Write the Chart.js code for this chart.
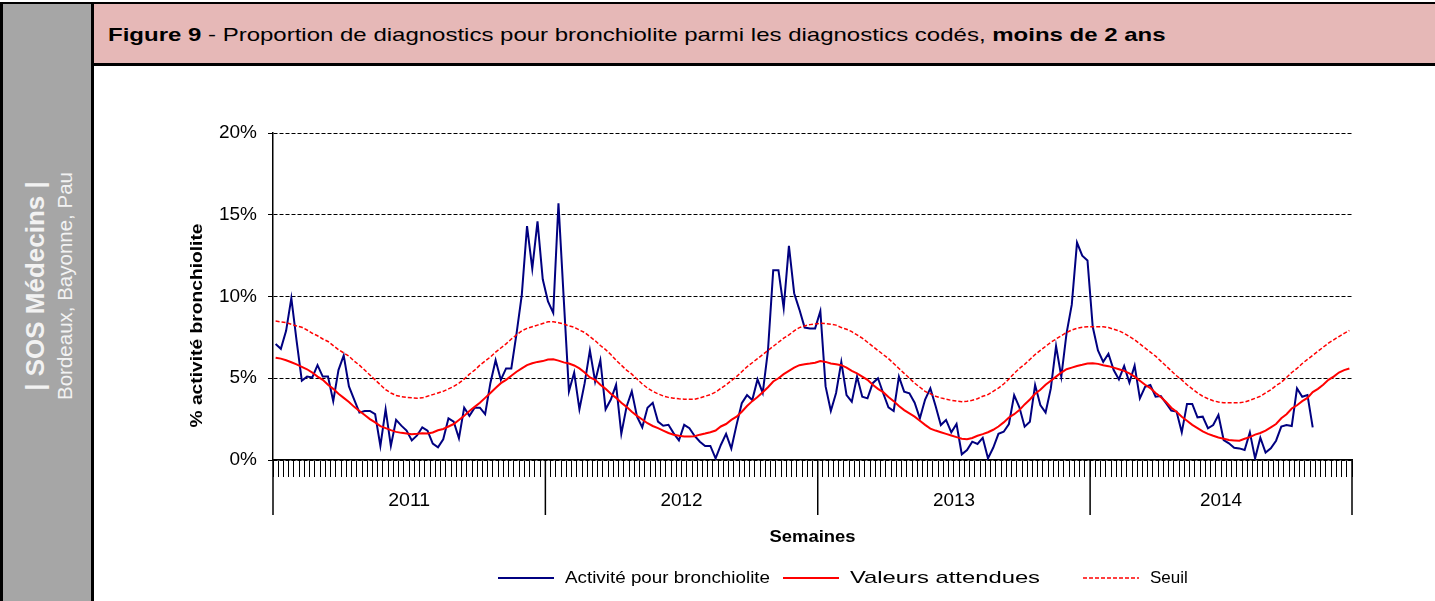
<!DOCTYPE html>
<html>
<head>
<meta charset="utf-8">
<script src="https://cdn.jsdelivr.net/npm/chart.js@4.4.1/dist/chart.umd.min.js"></script>
<style>
  body { margin: 0; width: 1435px; height: 601px; overflow: hidden; background: #fff; font-family: "Liberation Sans", Arial, sans-serif; }
  #side { position: absolute; left: 0; top: 2px; width: 88px; height: 599px; background: #A6A6A6; border-left: 3px solid #000; border-right: 3px solid #000; border-top: 2px solid #000; }
  #head { position: absolute; left: 94px; top: 2px; width: 1341px; height: 59px; background: #E6B8B7; border-top: 2px solid #000; border-bottom: 3px solid #000; }
  #head span { position: absolute; left: 14px; top: 21px; font-size: 19px; line-height: 1; color: #000; white-space: nowrap; transform-origin: 0 50%; }
  .rot { position: absolute; color: #F2F2F2; white-space: nowrap; line-height: 1; transform: translate(-50%, -50%) rotate(-90deg); }
  #chartBox { position: absolute; left: 93px; top: 67px; width: 1342px; height: 534px; }
</style>
</head>
<body>
<div id="side"></div>
<div class="rot" style="left:35px; top:286px; font-size:26px; font-weight:bold;">| SOS Médecins |</div>
<div class="rot" style="left:65px; top:286px; font-size:20.5px;">Bordeaux, Bayonne, Pau</div>
<div id="head"><span id="title"><b>Figure 9</b> - Proportion de diagnostics pour bronchiolite parmi les diagnostics codés, <b>moins de 2 ans</b></span></div>
<div id="chartBox"><canvas id="myChart" width="1342" height="534"></canvas></div>

<script>
const years = ['2011', '2012', '2013', '2014'];
const weeksPerYear = [52, 52, 52, 50];

// % activité bronchiolite, par semaine
const activity2011 = [7.1, 6.8, 7.9, 9.9, 7.3, 4.85, 5.1, 5.05, 5.8, 5.1, 5.1, 3.6, 5.5, 6.4, 4.5, 3.7, 2.9, 3.0, 3.0, 2.8, 0.86, 3.1, 0.86, 2.45, 2.1, 1.8, 1.2, 1.5, 2.0, 1.8, 1.0, 0.78, 1.27, 2.55, 2.35, 1.33, 3.2, 2.7, 3.2, 3.2, 2.8, 4.7, 6.1, 4.9, 5.6, 5.6, 7.75, 10.1, 14.3, 11.7, 14.6, 11.05];
const activity2012 = [9.7, 9.0, 15.7, 9.9, 4.2, 5.35, 3.1, 4.7, 6.7, 4.8, 6.1, 3.1, 3.7, 4.6, 1.6, 3.26, 4.2, 2.65, 2.0, 3.2, 3.5, 2.35, 2.1, 2.15, 1.63, 1.2, 2.15, 1.94, 1.47, 1.12, 0.86, 0.86, 0.1, 0.92, 1.6, 0.7, 2.15, 3.47, 3.97, 3.67, 4.93, 4.1, 6.7, 11.6, 11.6, 9.3, 13.1, 10.2, 9.2, 8.1, 8.05, 8.05];
const activity2013 = [9.1, 4.5, 3.0, 4.1, 6.0, 3.97, 3.57, 5.1, 3.87, 3.77, 4.7, 5.0, 4.08, 3.22, 3.0, 5.1, 4.18, 4.08, 3.5, 2.55, 3.7, 4.38, 3.3, 2.14, 2.45, 1.69, 2.2, 0.35, 0.61, 1.12, 0.98, 1.36, 0.1, 0.75, 1.6, 1.73, 2.2, 3.97, 3.22, 2.04, 2.34, 4.59, 3.36, 2.9, 4.38, 6.97, 5.1, 7.75, 9.5, 13.3, 12.5, 12.2];
const activity2014 = [8.15, 6.7, 6.0, 6.5, 5.5, 4.93, 5.75, 4.73, 5.77, 3.77, 4.48, 4.59, 3.87, 3.91, 3.47, 3.02, 2.96, 1.69, 3.43, 3.43, 2.61, 2.65, 1.94, 2.14, 2.75, 1.22, 1.02, 0.75, 0.71, 0.61, 1.69, 0.1, 1.36, 0.45, 0.71, 1.18, 2.04, 2.14, 2.08, 4.38, 3.87, 3.97, 2.0, null, null, null, null, null, null, null];

const expected2011 = [6.26, 6.2, 6.1, 5.98, 5.85, 5.7, 5.55, 5.35, 5.1, 4.9, 4.6, 4.35, 4.05, 3.8, 3.55, 3.25, 3.0, 2.75, 2.5, 2.3, 2.07, 1.95, 1.83, 1.72, 1.66, 1.62, 1.58, 1.6, 1.63, 1.62, 1.68, 1.82, 1.9, 2.05, 2.2, 2.45, 2.7, 3.0, 3.25, 3.5, 3.8, 4.1, 4.4, 4.7, 4.9, 5.15, 5.4, 5.6, 5.8, 5.92, 6.0, 6.05];
const expected2012 = [6.15, 6.16, 6.08, 5.97, 5.9, 5.78, 5.6, 5.35, 5.05, 4.9, 4.6, 4.35, 4.05, 3.8, 3.5, 3.25, 2.95, 2.7, 2.48, 2.25, 2.08, 1.95, 1.8, 1.65, 1.55, 1.48, 1.44, 1.43, 1.45, 1.55, 1.62, 1.7, 1.8, 2.05, 2.2, 2.45, 2.65, 2.95, 3.3, 3.6, 3.85, 4.15, 4.45, 4.8, 5.0, 5.25, 5.45, 5.65, 5.8, 5.86, 5.9, 5.95];
const expected2013 = [6.05, 6.0, 5.9, 5.85, 5.8, 5.65, 5.45, 5.3, 5.1, 4.9, 4.6, 4.35, 4.15, 3.85, 3.6, 3.3, 3.05, 2.85, 2.65, 2.4, 2.15, 1.92, 1.8, 1.7, 1.6, 1.5, 1.4, 1.3, 1.27, 1.35, 1.48, 1.58, 1.7, 1.85, 2.05, 2.3, 2.6, 2.8, 3.05, 3.4, 3.7, 4.05, 4.3, 4.6, 4.85, 5.1, 5.35, 5.55, 5.65, 5.75, 5.82, 5.9];
const expected2014 = [5.92, 5.88, 5.8, 5.74, 5.65, 5.55, 5.45, 5.3, 5.1, 4.85, 4.6, 4.4, 4.1, 3.85, 3.55, 3.2, 2.95, 2.65, 2.4, 2.15, 1.95, 1.75, 1.6, 1.48, 1.38, 1.3, 1.22, 1.2, 1.18, 1.3, 1.4, 1.55, 1.65, 1.8, 2.0, 2.2, 2.55, 2.8, 3.15, 3.35, 3.6, 3.8, 4.15, 4.35, 4.6, 4.9, 5.1, 5.35, 5.5, 5.6];

const threshold2011 = [8.5, 8.45, 8.4, 8.3, 8.2, 8.12, 7.95, 7.75, 7.6, 7.4, 7.25, 7.0, 6.75, 6.55, 6.35, 6.05, 5.8, 5.5, 5.2, 4.9, 4.6, 4.3, 4.1, 3.95, 3.88, 3.83, 3.8, 3.77, 3.8, 3.9, 4.0, 4.1, 4.2, 4.35, 4.5, 4.7, 4.95, 5.25, 5.5, 5.8, 6.05, 6.3, 6.6, 6.85, 7.1, 7.4, 7.65, 7.9, 8.05, 8.15, 8.25, 8.35];
const threshold2012 = [8.45, 8.46, 8.4, 8.32, 8.2, 8.12, 7.95, 7.8, 7.55, 7.3, 7.0, 6.75, 6.45, 6.1, 5.8, 5.5, 5.25, 4.95, 4.65, 4.4, 4.2, 4.05, 3.92, 3.83, 3.78, 3.74, 3.72, 3.71, 3.71, 3.8, 3.9, 4.0, 4.15, 4.38, 4.6, 4.85, 5.1, 5.4, 5.7, 5.95, 6.2, 6.45, 6.7, 6.95, 7.2, 7.45, 7.65, 7.9, 8.1, 8.2, 8.28, 8.32];
const threshold2013 = [8.36, 8.34, 8.3, 8.25, 8.1, 8.0, 7.85, 7.65, 7.45, 7.2, 6.95, 6.7, 6.45, 6.2, 5.9, 5.6, 5.3, 5.0, 4.7, 4.45, 4.2, 4.05, 3.9, 3.8, 3.72, 3.65, 3.6, 3.57, 3.6, 3.65, 3.75, 3.9, 4.0, 4.2, 4.4, 4.65, 4.95, 5.3, 5.6, 5.85, 6.15, 6.45, 6.7, 6.95, 7.2, 7.4, 7.6, 7.8, 7.95, 8.05, 8.12, 8.15];
const threshold2014 = [8.15, 8.15, 8.15, 8.1, 8.0, 7.9, 7.75, 7.55, 7.35, 7.1, 6.85, 6.6, 6.35, 6.05, 5.75, 5.45, 5.15, 4.9, 4.6, 4.35, 4.1, 3.9, 3.75, 3.62, 3.55, 3.5, 3.5, 3.5, 3.5, 3.55, 3.65, 3.77, 3.9, 4.1, 4.3, 4.55, 4.75, 5.05, 5.35, 5.6, 5.9, 6.15, 6.4, 6.65, 6.9, 7.15, 7.35, 7.55, 7.75, 7.92];

const yTicks = [0, 5, 10, 15, 20];

const activity = [...activity2011, ...activity2012, ...activity2013, ...activity2014];
const expected = [...expected2011, ...expected2012, ...expected2013, ...expected2014];
const threshold = [...threshold2011, ...threshold2012, ...threshold2013, ...threshold2014];

let weekLabels = [];
years.forEach(function (y, k) {
  for (let w = 1; w <= weeksPerYear[k]; w++) {
    weekLabels.push(y + '-S' + (w < 10 ? '0' + w : w));
  }
});

// the title is printed wider than plain Arial, stretch it to the same span
const title = document.getElementById('title');
title.style.transform = 'scaleX(' + (1057 / title.offsetWidth) + ')';

const FONT = '"Liberation Sans", Arial, sans-serif';

// text stretched horizontally to a given width (natural width if none)
function wideText(ctx, text, x, y, width) {
  const w = ctx.measureText(text).width;
  const sx = width ? width / w : 1;
  ctx.save();
  ctx.translate(x, y);
  ctx.scale(sx, 1);
  ctx.fillText(text, 0, 0);
  ctx.restore();
}

// x axis years, titles and legend
const decorations = {
  id: 'decorations',
  afterDraw(chart) {
    const ctx = chart.ctx;
    const xs = chart.scales.x;
    const area = chart.chartArea;
    const half = (xs.getPixelForValue(1) - xs.getPixelForValue(0)) / 2;
    ctx.save();
    ctx.strokeStyle = '#000';
    ctx.lineWidth = 1.5;
    ctx.fillStyle = '#000';
    ctx.font = '18px ' + FONT;
    ctx.textAlign = 'center';
    ctx.textBaseline = 'middle';
    let start = 0;
    years.forEach(function (y, k) {
      const x0 = xs.getPixelForValue(start) - half;
      const x1 = xs.getPixelForValue(start + weeksPerYear[k] - 1) + half;
      ctx.beginPath();
      ctx.moveTo(x0, area.bottom);
      ctx.lineTo(x0, area.bottom + 55);
      if (k === years.length - 1) {
        ctx.moveTo(x1, area.bottom);
        ctx.lineTo(x1, area.bottom + 55);
      }
      ctx.stroke();
      wideText(ctx, y, (x0 + x1) / 2, area.bottom + 41, 42);
      start += weeksPerYear[k];
    });

    ctx.font = 'bold 17px ' + FONT;
    wideText(ctx, 'Semaines', (area.left + area.right) / 2, area.bottom + 77, 86);

    ctx.save();
    ctx.translate(104, (area.top + area.bottom) / 2 + 29);
    ctx.rotate(-Math.PI / 2);
    wideText(ctx, '% activité bronchiolite', 0, 0, 204);
    ctx.restore();

    // legend
    const ly = area.bottom + 118;
    const items = [
      { x: 405, text: 'Activité pour bronchiolite', ds: 0, w: 205 },
      { x: 690, text: 'Valeurs attendues', ds: 1, w: 190 },
      { x: 990, text: 'Seuil', ds: 2, w: null },
    ];
    ctx.font = '17px ' + FONT;
    ctx.textAlign = 'left';
    items.forEach(function (it) {
      const ds = chart.data.datasets[it.ds];
      ctx.save();
      ctx.strokeStyle = ds.borderColor;
      ctx.lineWidth = ds.borderWidth;
      ctx.setLineDash(ds.borderDash || []);
      ctx.beginPath();
      ctx.moveTo(it.x, ly);
      ctx.lineTo(it.x + 56, ly);
      ctx.stroke();
      ctx.restore();
      wideText(ctx, it.text, it.x + 67, ly, it.w);
    });
    ctx.restore();
  }
};

new Chart(document.getElementById('myChart'), {
  type: 'line',
  data: {
    labels: weekLabels,
    datasets: [
      {
        label: 'Activité pour bronchiolite',
        data: activity,
        borderColor: '#000080',
        borderWidth: 2,
        pointRadius: 0,
        tension: 0,
        order: 3
      },
      {
        label: 'Valeurs attendues',
        data: expected,
        borderColor: '#FF0000',
        borderWidth: 2,
        pointRadius: 0,
        tension: 0,
        order: 2
      },
      {
        label: 'Seuil',
        data: threshold,
        borderColor: '#FF0000',
        borderWidth: 1.5,
        borderDash: [4, 2],
        pointRadius: 0,
        tension: 0,
        order: 1
      }
    ]
  },
  options: {
    responsive: false,
    animation: false,
    layout: { padding: { left: 0, top: 66, right: 83, bottom: 0 } },
    plugins: {
      legend: { display: false },
      tooltip: { enabled: false }
    },
    scales: {
      x: {
        type: 'category',
        offset: true,
        ticks: { display: false },
        grid: { offset: true, drawOnChartArea: false, drawTicks: true, tickLength: 17, color: '#000', lineWidth: 1 },
        border: { display: true, color: '#000', width: 1.5 },
        afterFit: function (scale) { scale.height = 141; }
      },
      y: {
        min: 0,
        max: 20,
        afterBuildTicks: function (scale) { scale.ticks = yTicks.map(v => ({ value: v })); },
        ticks: {
          callback: v => v + '%',
          color: '#000',
          padding: 11,
          font: { family: FONT, size: 19 }
        },
        grid: { color: '#000', lineWidth: 1, tickLength: 5 },
        border: { display: true, color: '#000', width: 1.5, dash: [4, 2] },
        afterFit: function (scale) { scale.width = 180; }
      }
    }
  },
  plugins: [decorations]
});
</script>
</body>
</html>
